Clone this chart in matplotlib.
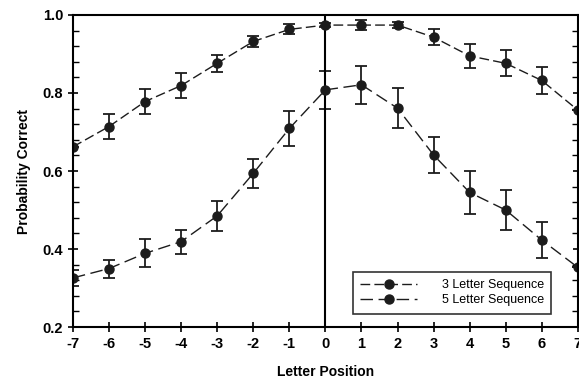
import matplotlib
matplotlib.use("Agg")
import matplotlib.pyplot as plt
from matplotlib.lines import Line2D
from matplotlib.ticker import MultipleLocator

positions = [-7, -6, -5, -4, -3, -2, -1, 0, 1, 2, 3, 4, 5, 6, 7]

seq3 = [0.662, 0.714, 0.778, 0.819, 0.876, 0.932, 0.963, 0.974, 0.974, 0.974,
        0.943, 0.895, 0.876, 0.832, 0.756]
seq3_err = [0.0, 0.033, 0.031, 0.031, 0.021, 0.015, 0.013, 0.006, 0.012, 0.008,
            0.020, 0.030, 0.033, 0.035, 0.0]

seq5 = [0.326, 0.350, 0.389, 0.419, 0.485, 0.594, 0.709, 0.808, 0.821, 0.761,
        0.641, 0.545, 0.500, 0.423, 0.353]
seq5_err = [0.020, 0.023, 0.036, 0.031, 0.038, 0.038, 0.045, 0.049, 0.048, 0.051,
            0.047, 0.056, 0.052, 0.046, 0.0]

plt.rcParams['font.family'] = ['Liberation Sans', 'DejaVu Sans']
plt.rcParams['axes.unicode_minus'] = False

fig = plt.figure(figsize=(5.79, 3.83), dpi=100)
ax = fig.add_axes([0.126, 0.146, 0.872, 0.815])

col = '#1c1c1c'
dash3 = (0, (7, 3))
dash5 = (0, (9, 4))
ax.errorbar(positions, seq3, yerr=seq3_err, color=col, ls=dash3, lw=1.0,
            marker='o', ms=6.5, capsize=4, elinewidth=1.3, capthick=1.3)
ax.errorbar(positions, seq5, yerr=seq5_err, color=col, ls=dash5, lw=1.0,
            marker='o', ms=6.5, capsize=4, elinewidth=1.3, capthick=1.3)

ax.axvline(0, color='black', lw=1.5)

ax.set_xlim(-7, 7)
ax.set_ylim(0.2, 1.0)
ax.set_xticks(positions)
ax.set_yticks([0.2, 0.4, 0.6, 0.8, 1.0])
ax.yaxis.set_minor_locator(MultipleLocator(0.04))
ax.tick_params(axis='both', which='major', direction='inout', length=7, width=1.2,
               labelsize=10.5)
ax.tick_params(axis='y', which='minor', direction='in', length=4, width=1.0,
               right=True)
ax.tick_params(axis='y', which='major', right=True)
for lab in ax.get_xticklabels() + ax.get_yticklabels():
    lab.set_fontweight('bold')
for s in ax.spines.values():
    s.set_linewidth(1.5)

ax.set_xlabel('Letter Position', fontsize=10, fontweight='bold', labelpad=10)
ax.set_ylabel('Probability Correct', fontsize=10, fontweight='bold', labelpad=8)

handles = [Line2D([], [], color=col, ls=dash3, lw=1.0, marker='o', ms=6.5),
           Line2D([], [], color=col, ls=dash5, lw=1.0, marker='o', ms=6.5)]
labels = ['3 Letter Sequence', '5 Letter Sequence']
leg = ax.legend(handles, labels, loc='lower right', bbox_to_anchor=(0.955, 0.03),
                fontsize=9, frameon=True, fancybox=False, edgecolor='black',
                handlelength=4.5, borderpad=0.6, labelspacing=0.25,
                handletextpad=2.0, borderaxespad=0.3)
leg.get_frame().set_linewidth(1.2)

fig.savefig('out.png', dpi=100)
